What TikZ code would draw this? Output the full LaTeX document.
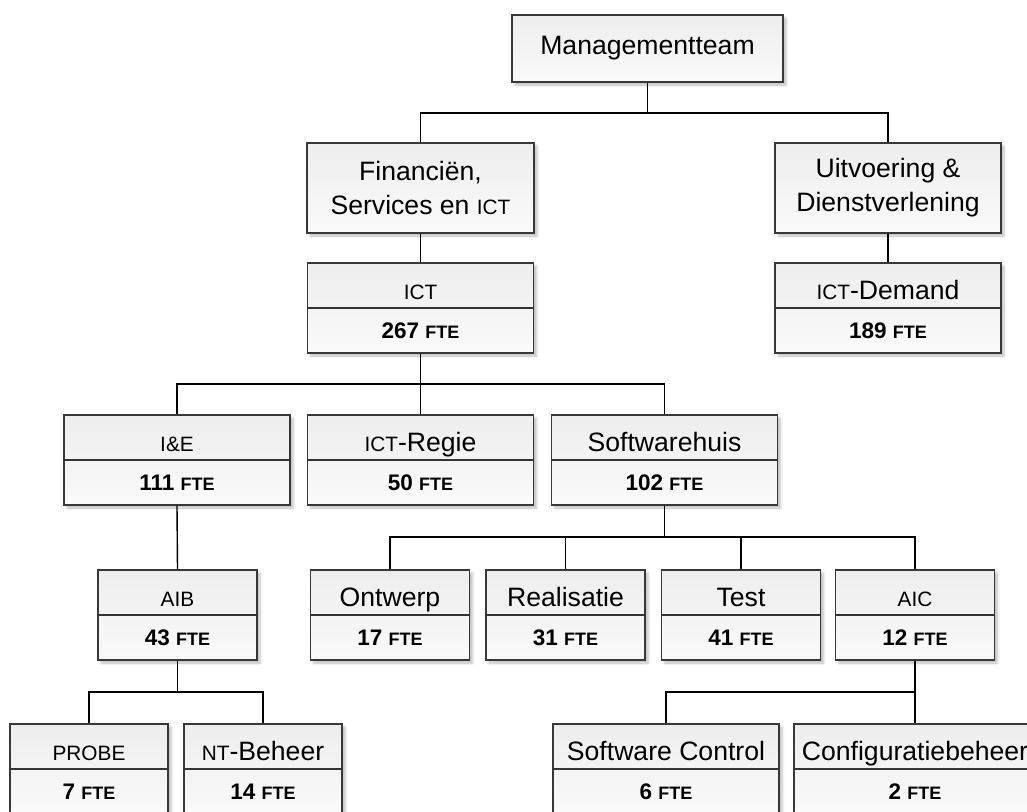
\documentclass[tikz,border=0pt]{standalone}
\usepackage{fontspec}
\setmainfont{Liberation Sans}
\usetikzlibrary{calc,shadows.blur}

% reduced-size capitals for abbreviations
\newcommand\capsA[1]{{\fontsize{20.8pt}{24pt}\selectfont #1}}
\newcommand\capsB[1]{{\fontsize{18pt}{22pt}\selectfont #1}}

\tikzset{
  orgbox/.style={draw=black!78, line width=1.2pt, top color=black!7, bottom color=black!2,
    inner sep=0pt,
    blur shadow={shadow xshift=3pt, shadow yshift=-3pt, shadow blur radius=2.5pt, shadow opacity=26}},
  divider/.style={draw=black!80, line width=1.2pt},
  toplabel/.style={inner sep=0pt, font=\fontsize{26.6pt}{34pt}\selectfont, align=center},
  ftelabel/.style={inner sep=0pt, font=\bfseries\fontsize{22.5pt}{26pt}\selectfont,
    text height=16pt, text depth=0pt},
  link/.style={draw=black, line width=1.4pt},
}

% two-part unit box: name, centre x, top y, width, unit name, staff count
\newcommand\unitbox[6]{%
  \node[orgbox, minimum width=#4pt, minimum height=90pt] (#1) at (#2,#3+45) {};
  \draw[divider] (#1.west) -- (#1.east);
  \node[toplabel, anchor=base] at ([yshift=8.5pt]#1.center) {#5};
  \node[ftelabel] at ($(#1.north)!0.75!(#1.south)$) {#6};
}

\begin{document}
\begin{tikzpicture}[x=1pt,y=-1pt]
\path[use as bounding box, clip] (0,0) rectangle (1027,811);

% top level
\node[orgbox, toplabel, minimum width=271pt, minimum height=67pt] (mt) at (647.5,48.5) {Managementteam};
\node[orgbox, toplabel, minimum width=227pt, minimum height=90pt] (fin) at (420.5,188) {Financiën,\\Services en \capsA{ICT}};
\node[orgbox, toplabel, minimum width=226pt, minimum height=90pt] (uit) at (888,188) {Uitvoering \&\\Dienstverlening};

% divisions
\unitbox{ict}{420.5}{263}{226}{\capsA{ICT}}{267 \capsB{FTE}}
\unitbox{dem}{888}{263}{226}{\capsA{ICT}-Demand}{189 \capsB{FTE}}

\unitbox{ie}{177}{415}{226}{\capsA{I\&E}}{111 \capsB{FTE}}
\unitbox{regie}{420.5}{415}{226}{\capsA{ICT}-Regie}{50 \capsB{FTE}}
\unitbox{swh}{664.5}{415}{226}{Softwarehuis}{102 \capsB{FTE}}

\unitbox{aib}{177.5}{570}{159}{\capsA{AIB}}{43 \capsB{FTE}}
\unitbox{ontw}{390}{570}{159}{Ontwerp}{17 \capsB{FTE}}
\unitbox{real}{565.5}{570}{159}{Realisatie}{31 \capsB{FTE}}
\unitbox{test}{741}{570}{159}{Test}{41 \capsB{FTE}}
\unitbox{aic}{915}{570}{159}{\capsA{AIC}}{12 \capsB{FTE}}

\unitbox{probe}{89}{724}{158}{\capsA{PROBE}}{7 \capsB{FTE}}
\unitbox{ntb}{263}{724}{158}{\capsA{NT}-Beheer}{14 \capsB{FTE}}
\unitbox{swc}{666}{724}{226}{Software Control}{6 \capsB{FTE}}
\unitbox{conf}{915}{724}{242}{Configuratiebeheer}{2 \capsB{FTE}}

% junction points of the connectors
\coordinate (jmt) at (647.5,113);
\coordinate (jict) at (420.5,384);
\coordinate (jswh) at (664.5,537);
\coordinate (jaib) at (177.5,692);
\coordinate (jaic) at (915,692);

% connectors
\draw[link] (mt.south) -- (jmt);
\draw[link] (jmt) -| (fin.north);
\draw[link] (jmt) -| (uit.north);
\draw[link] (fin.south) -- (ict.north);
\draw[link] (uit.south) -- (dem.north);

\draw[link] (ict.south) -- (jict);
\draw[link] (jict) -| (ie.north);
\draw[link] (jict) -- (regie.north);
\draw[link] (jict) -| (swh.north);

\draw[link] (ie.south) -- (aib.north);
\draw[link] (swh.south) -- (jswh);
\draw[link] (jswh) -| (ontw.north);
\draw[link] (jswh) -| (real.north);
\draw[link] (jswh) -| (test.north);
\draw[link] (jswh) -| (aic.north);

\draw[link] (aib.south) -- (jaib);
\draw[link] (jaib) -| (probe.north);
\draw[link] (jaib) -| (ntb.north);
\draw[link] (aic.south) -- (jaic);
\draw[link] (jaic) -| (swc.north);
\draw[link] (jaic) -- (conf.north);
\end{tikzpicture}
\end{document}
